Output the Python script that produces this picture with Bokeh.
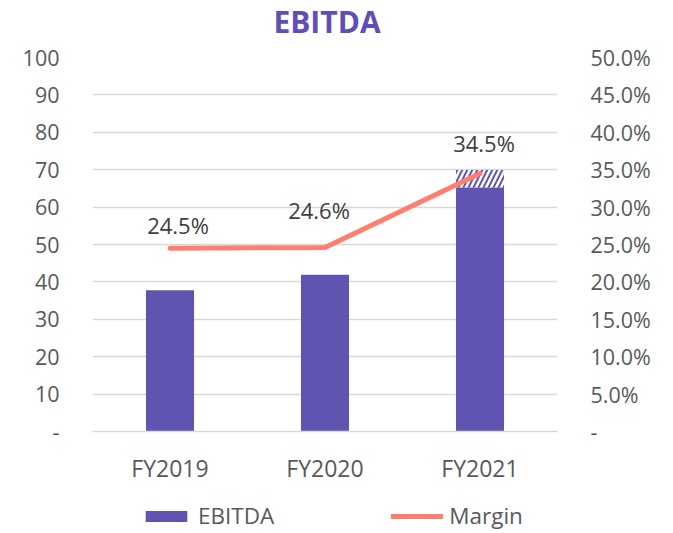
from bokeh.plotting import figure
from bokeh.layouts import column
from bokeh.models import (ColumnDataSource, FactorRange, Range1d, LinearAxis, FixedTicker,
                          Legend, LegendItem, Label)
from bokeh.core.properties import value
from bokeh.embed import file_html
from bokeh.resources import INLINE

title_text = "EBITDA"
years = ["FY2019", "FY2020", "FY2021"]
ebitda_solid = [37.8, 41.9, 65.2]
ebitda_total = [37.8, 41.9, 69.9]
margin_pct = [24.5, 24.6, 34.5]
margin_labels = ["24.5%", "24.6%", "34.5%"]
left_ticks = [0, 10, 20, 30, 40, 50, 60, 70, 80, 90, 100]
left_tick_labels = ["-", "10", "20", "30", "40", "50", "60", "70", "80", "90", "100"]
right_ticks = [0, 5, 10, 15, 20, 25, 30, 35, 40, 45, 50]
right_tick_labels = ["-", "5.0%", "10.0%", "15.0%", "20.0%", "25.0%", "30.0%", "35.0%", "40.0%", "45.0%", "50.0%"]
label_offsets = [-23, -37, -30]
label_dx = [8, -6, 4]

FONT = "Open Sans"
TXT = "#595959"
BAR = "#5F54B0"
LINE = "#FF7F6E"
GRID = "#D9D9D9"
W = 665

xr = FactorRange(*years, range_padding=0)
src = ColumnDataSource(dict(x=years, solid=ebitda_solid, total=ebitda_total, m=margin_pct,
                            lab=margin_labels, dy=label_offsets, dx=label_dx))

# ---- title strip
tp = figure(width=W, height=42, x_range=Range1d(0, 1), y_range=Range1d(0, 42),
            output_backend="svg", toolbar_location=None, x_axis_type=None, y_axis_type=None,
            min_border=0)
tp.outline_line_color = None
tp.xgrid.grid_line_color = None
tp.ygrid.grid_line_color = None
tp.add_layout(Label(x=0.5, y=21, x_offset=2, text=title_text, text_align="center",
                    text_baseline="alphabetic", text_font=FONT, text_font_size="30px",
                    text_font_style="bold", text_color="#5F4FB5"))

# ---- main chart
p = figure(width=W, height=448, x_range=xr, y_range=Range1d(0, 100),
           output_backend="svg", toolbar_location=None,
           min_border_left=92, min_border_right=108, min_border_top=15, min_border_bottom=59)
p.extra_y_ranges = {"pct": Range1d(0, 50)}
p.outline_line_color = None
p.background_fill_color = "white"
p.border_fill_color = "white"

# hatched (estimated) part on top
p.vbar(x="x", bottom="solid", top="total", width=0.31, source=src, fill_color=BAR,
       line_color=None, hatch_pattern="/", hatch_color="white", hatch_weight=2.5, hatch_scale=10)
p.vbar(x="x", top="solid", width=0.31, source=src, fill_color=BAR, line_color=None)
p.line(x="x", y="m", source=src, y_range_name="pct", line_color=LINE, line_width=5,
       line_cap="round", line_join="round")
p.text(x="x", y="m", text="lab", source=src, y_range_name="pct", y_offset="dy", x_offset="dx",
       text_align="center", text_baseline="middle", text_font=value(FONT),
       text_font_size="22px", text_color="#404040")

p.yaxis.ticker = FixedTicker(ticks=left_ticks)
p.yaxis.major_label_overrides = {t: l for t, l in zip(left_ticks, left_tick_labels)}
ax_r = LinearAxis(y_range_name="pct", ticker=FixedTicker(ticks=right_ticks))
ax_r.major_label_overrides = {t: l for t, l in zip(right_ticks, right_tick_labels)}
p.add_layout(ax_r, "right")
for ax in [p.yaxis[0], ax_r]:
    ax.axis_line_color = None
    ax.major_tick_line_color = None
    ax.minor_tick_line_color = None
    ax.major_tick_out = 0
    ax.minor_tick_out = 0
    ax.major_label_text_font = FONT
    ax.major_label_text_font_size = "21.5px"
    ax.major_label_text_color = TXT
    ax.major_label_standoff = 33
p.xaxis.axis_line_color = GRID
p.xaxis.axis_line_width = 1.5
p.xaxis.major_tick_line_color = None
p.xaxis.minor_tick_line_color = None
p.xaxis.major_tick_out = 0
p.xaxis.minor_tick_out = 0
p.xaxis.major_label_text_font = FONT
p.xaxis.major_label_text_font_size = "23px"
p.xaxis.major_label_text_color = TXT
p.xaxis.major_label_standoff = 20
p.xgrid.grid_line_color = None
p.ygrid.grid_line_color = GRID
p.ygrid.grid_line_width = 1.5

# ---- legend strip
lp = figure(width=W, height=43, x_range=xr, y_range=Range1d(0, 100),
            output_backend="svg", toolbar_location=None, x_axis_type=None, y_axis_type=None,
            min_border=0)
lp.outline_line_color = None
lp.xgrid.grid_line_color = None
lp.ygrid.grid_line_color = None
lbar = lp.vbar(x="x", top="solid", width=0.31, source=src, fill_color=BAR, line_color=None,
               visible=False)
lline = lp.line(x="x", y="m", source=src, line_color=LINE, line_width=5, line_cap="round",
                visible=False)
legend = Legend(items=[LegendItem(label="EBITDA", renderers=[lbar]),
                       LegendItem(label="Margin", renderers=[lline])],
                orientation="horizontal", location=(48, 2), spacing=117,
                glyph_width=52, glyph_height=14, label_standoff=6,
                label_text_font=FONT, label_text_font_size="22.5px", label_text_color=TXT,
                border_line_color=None, background_fill_alpha=0, padding=0, margin=0)
lp.add_layout(legend, "center")

open("out.html", "w").write(file_html(column(tp, p, lp, spacing=0), INLINE))
